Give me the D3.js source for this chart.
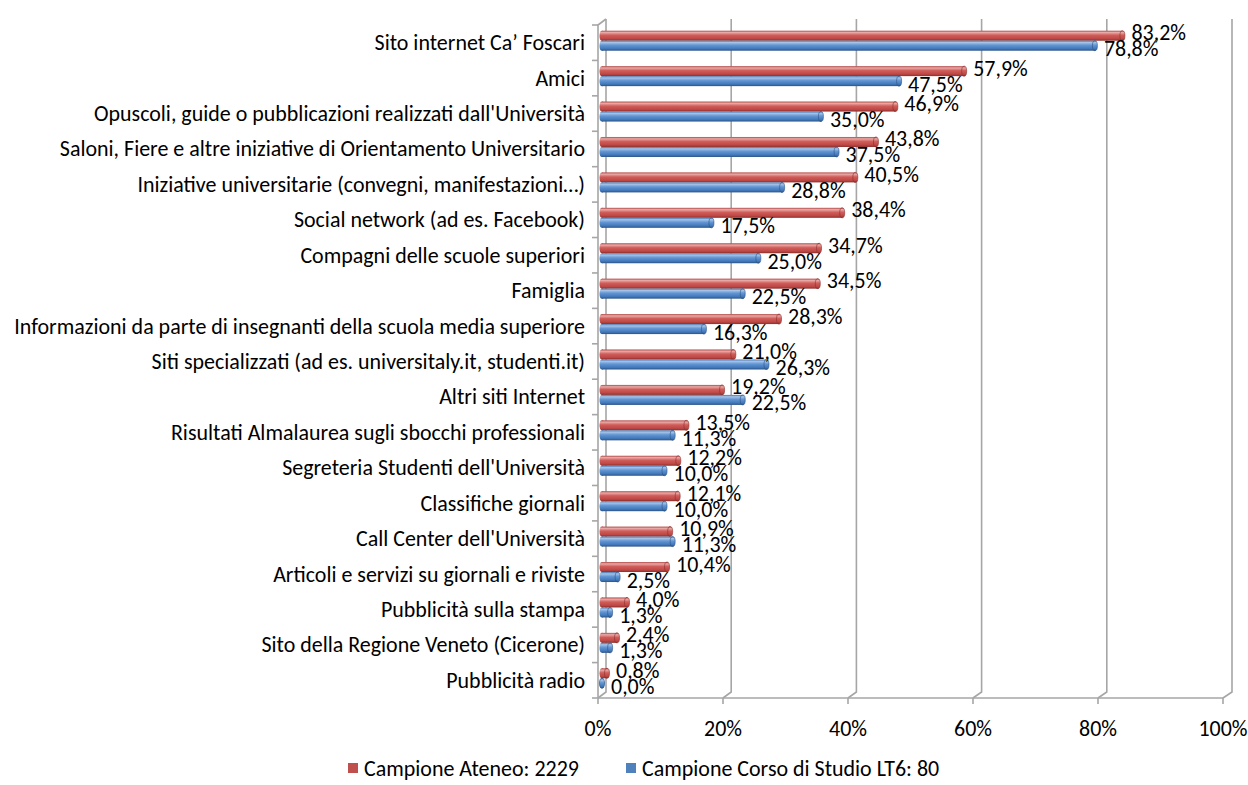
<!DOCTYPE html>
<html><head><meta charset="utf-8">
<script src="https://cdn.jsdelivr.net/npm/d3@7"></script>
<style>
body{margin:0;background:#fff}
svg{display:block}
text{font-family: Calibri, Carlito, "Open Sans", sans-serif; fill:#000}
</style>
</head><body><svg id="c" width="1248" height="785"></svg>
<script>
const categories = [
  "Sito internet Ca\u2019 Foscari",
  "Amici",
  "Opuscoli, guide o pubblicazioni realizzati dall'Università",
  "Saloni, Fiere e altre iniziative di Orientamento Universitario",
  "Iniziative universitarie (convegni, manifestazioni\u2026)",
  "Social network (ad es. Facebook)",
  "Compagni delle scuole superiori",
  "Famiglia",
  "Informazioni da parte di insegnanti della scuola media superiore",
  "Siti specializzati (ad es. universitaly.it, studenti.it)",
  "Altri siti Internet",
  "Risultati Almalaurea sugli sbocchi professionali",
  "Segreteria Studenti dell'Università",
  "Classifiche giornali",
  "Call Center dell'Università",
  "Articoli e servizi su giornali e riviste",
  "Pubblicità sulla stampa",
  "Sito della Regione Veneto (Cicerone)",
  "Pubblicità radio"
];
const ateneo = [83.2, 57.9, 46.9, 43.8, 40.5, 38.4, 34.7, 34.5, 28.3, 21.0, 19.2, 13.5, 12.2, 12.1, 10.9, 10.4, 4.0, 2.4, 0.8];
const corso  = [78.8, 47.5, 35.0, 37.5, 28.8, 17.5, 25.0, 22.5, 16.3, 26.3, 22.5, 11.3, 10.0, 10.0, 11.3, 2.5, 1.3, 1.3, 0.0];
const xTicks = [0, 20, 40, 60, 80, 100];
const seriesNames = ["Campione Ateneo: 2229", "Campione Corso di Studio LT6: 80"];
const seriesColors = ["#c0504d", "#4f81bd"];

const svg = d3.select("#c");

// fit font size so the longest category label spans like the reference
const probe = svg.append("text").attr("font-size", 20).text(categories[8]);
const w = probe.node().getComputedTextLength();
probe.remove();
const fs = 20 * 571 / w;

const xFront = d3.scaleLinear([0, 100], [598, 1223]);
const xBack  = d3.scaleLinear([0, 100], [606, 1232]);
const xBar   = d3.scaleLinear([0, 100], [602, 1227.5]);
const y = d3.scaleBand(categories, [25, 698]);
const yBack = v => v - 6;
const barH = 10;

// gradients
const defs = svg.append("defs");
const grads = [
  ["#b04643", "#e9a9a7", "#d05d59", "#bd4744", "#8a2e2b"],
  ["#4676b0", "#a6c3e8", "#6195d3", "#4278ba", "#2b5384"]
];
grads.forEach((stops, i) => {
  const g = defs.append("linearGradient").attr("id", "g" + i)
    .attr("x1", 0).attr("y1", 0).attr("x2", 0).attr("y2", 1);
  [0, 0.18, 0.45, 0.8, 1].forEach((o, j) =>
    g.append("stop").attr("offset", o).attr("stop-color", stops[j]));
});

const grid = svg.append("g").attr("stroke", "#a6a6a6").attr("stroke-width", 1.6).attr("fill", "none");
const y0 = 25, y1 = 698;
// back wall gridlines + floor diagonals
xTicks.forEach(t => {
  grid.append("path").attr("d",
    `M${xBack(t)},${yBack(y0)} L${xBack(t)},${yBack(y1)} L${xFront(t)},${y1}`);
  grid.append("line").attr("x1", xFront(t)).attr("x2", xFront(t))
    .attr("y1", y1).attr("y2", y1 + 6);
});
// left wall front edge and top connector
grid.append("path").attr("d",
  `M${xFront(0)},${y1} L${xFront(0)},${y0} L${xBack(0)},${yBack(y0)}`);
// floor front edge
grid.append("line").attr("x1", xFront(0)).attr("x2", xFront(100))
  .attr("y1", y1).attr("y2", y1);
// category ticks
categories.concat([null]).forEach((c, i) => {
  const yy = c ? y(c) : y1;
  grid.append("line").attr("x1", xFront(0) - 6).attr("x2", xFront(0))
    .attr("y1", yy).attr("y2", yy);
});

// bars
const series = [ateneo, corso];
const barsG = svg.append("g");
categories.forEach((c, i) => {
  const mid = y(c) + y.bandwidth() / 2 - 2;
  series.forEach((vals, s) => {
    const top = mid - barH + s * barH;
    const x0 = xBar(0), x1 = xBar(vals[i]);
    const g = barsG.append("g");
    g.append("ellipse").attr("cx", x0).attr("cy", top + barH / 2)
      .attr("rx", 2.5).attr("ry", barH / 2).attr("fill", `url(#g${s})`);
    g.append("rect").attr("x", x0).attr("y", top)
      .attr("width", Math.max(0, x1 - x0)).attr("height", barH)
      .attr("fill", `url(#g${s})`);
    g.append("ellipse").attr("cx", x1).attr("cy", top + barH / 2)
      .attr("rx", 2.5).attr("ry", barH / 2).attr("fill", `url(#g${s})`)
      .attr("stroke", s ? "#2b5384" : "#8a2e2b").attr("stroke-width", 0.6);
  });
});

// data labels
const fmt = v => d3.format(".1f")(v).replace(".", ",") + "%";
const lab = svg.append("g").attr("font-size", fs);
categories.forEach((c, i) => {
  const mid = y(c) + y.bandwidth() / 2 - 2;
  series.forEach((vals, s) => {
    lab.append("text")
      .attr("x", xBar(vals[i]) + 9)
      .attr("y", s === 0 ? mid - barH / 2 - 3 : mid + barH / 2 + 3)
      .attr("dominant-baseline", "central")
      .text(fmt(vals[i]));
  });
});

// category labels
svg.append("g").attr("font-size", fs).selectAll("text").data(categories).join("text")
  .attr("x", 585).attr("y", d => y(d) + y.bandwidth() / 2)
  .attr("text-anchor", "end").attr("dominant-baseline", "central")
  .text(d => d);

// x tick labels
svg.append("g").attr("font-size", fs).selectAll("text").data(xTicks).join("text")
  .attr("x", d => xFront(d)).attr("y", 728)
  .attr("text-anchor", "middle").attr("dominant-baseline", "central")
  .text(d => d + "%");

// legend
const legX = [348, 626];
const leg = svg.append("g").attr("font-size", fs);
seriesNames.forEach((n, i) => {
  leg.append("rect").attr("x", legX[i]).attr("y", 763).attr("width", 10).attr("height", 10)
    .attr("fill", seriesColors[i]);
  leg.append("text").attr("x", legX[i] + 16).attr("y", 768)
    .attr("dominant-baseline", "central").text(n);
});
</script>
</body></html>
